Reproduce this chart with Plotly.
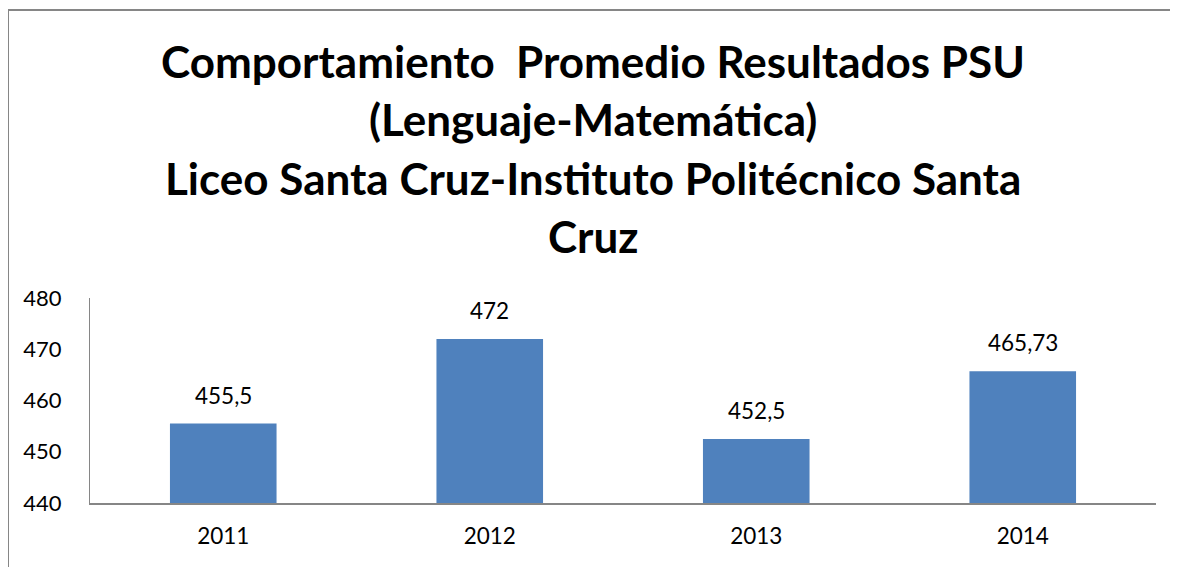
import plotly.graph_objects as go

years = ["2011", "2012", "2013", "2014"]
scores = [455.5, 472, 452.5, 465.73]
y_ticks = [440, 450, 460, 470, 480]
title_lines = [
    "Comportamiento  Promedio Resultados PSU",
    "(Lenguaje-Matemática)",
    "Liceo Santa Cruz-Instituto Politécnico Santa",
    "Cruz",
]

# page has an 8px body margin, so the figure is drawn 8px smaller
W, H = 1170, 559
L, R, T, B = 82, 22, 290, 64
pw, ph = W - L - R, H - T - B

def px_to_paper_y(py):
    return 1 + (T - py) / ph

def px_to_paper_x(px):
    return (px - L) / pw

FONT = "Lato, Calibri, Carlito, sans-serif"

fig = go.Figure()
fig.add_trace(go.Bar(
    x=years, y=scores, marker=dict(color="#4F81BD", line=dict(width=0)),
    width=0.4, hoverinfo="x+y",
    text=[f"{v:g}".replace(".", ",") for v in scores],
    textposition="none",
))

annotations = []
for i, v in enumerate(scores):
    annotations.append(dict(
        x=i, y=v, xref="x", yref="y", text=f"{v:g}".replace(".", ","),
        showarrow=False, yanchor="bottom", yshift=13,
        font=dict(family=FONT, size=22.5, color="#000000"),
    ))

title_centers = [53, 111, 170, 228]
for line, cy in zip(title_lines, title_centers):
    annotations.append(dict(
        x=px_to_paper_x(585), y=px_to_paper_y(cy), xref="paper", yref="paper",
        text=f"<b>{line}</b>", showarrow=False, xanchor="center", yanchor="middle",
        font=dict(family=FONT, size=44, color="#000000"),
    ))

fig.update_layout(
    width=W, height=H,
    margin=dict(l=L, r=R, t=T, b=B, autoexpand=False),
    paper_bgcolor="white", plot_bgcolor="white",
    showlegend=False,
    annotations=annotations,
    xaxis=dict(
        type="category", range=[-0.5, 3.5],
        showline=True, linecolor="#868686", linewidth=2, showgrid=False,
        ticks="outside", ticklen=12, tickcolor="rgba(255,255,255,0)",
        tickfont=dict(family=FONT, size=22.5, color="#000000"),
    ),
    yaxis=dict(
        range=[440, 480], tickvals=y_ticks, showline=True, linecolor="#868686",
        linewidth=1, showgrid=False, zeroline=False,
        ticks="outside", ticklen=23, tickcolor="rgba(255,255,255,0)",
        tickfont=dict(family=FONT, size=22, color="#000000"),
    ),
    shapes=[dict(
        type="rect", xref="paper", yref="paper",
        x0=px_to_paper_x(0), x1=px_to_paper_x(1200),
        y0=px_to_paper_y(600), y1=px_to_paper_y(2),
        line=dict(color="#868686", width=2), fillcolor="rgba(0,0,0,0)",
        layer="below",
    )],
)

fig.write_html("out.html")
